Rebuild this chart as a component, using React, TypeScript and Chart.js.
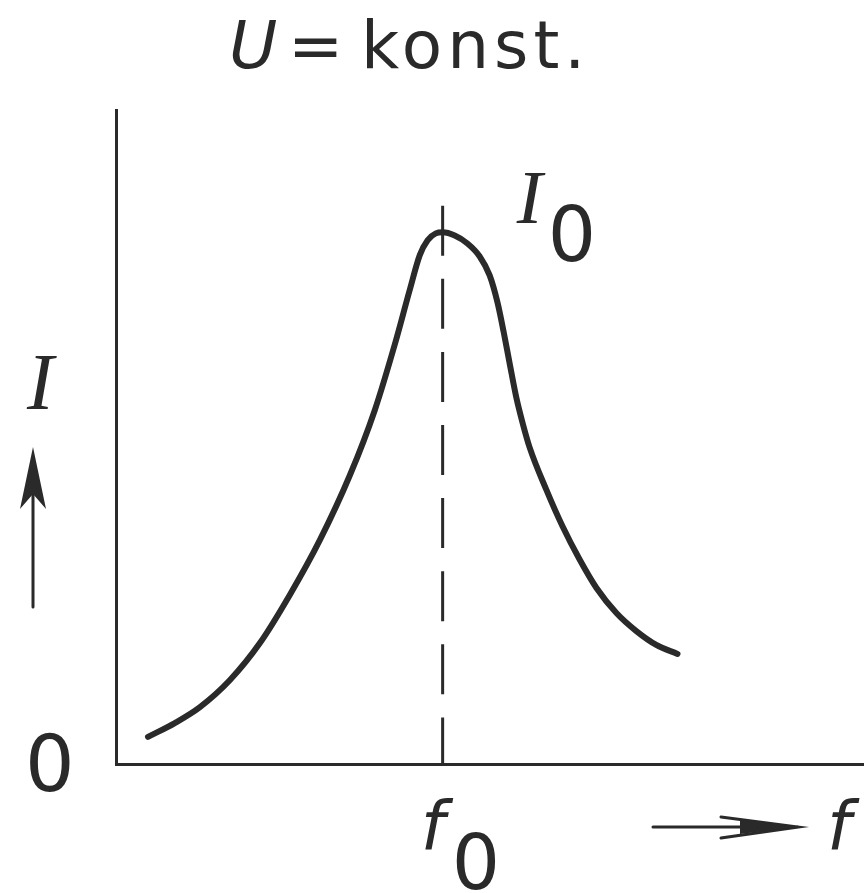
import { useEffect, useRef } from "react";
import { Chart, registerables } from "chart.js";

Chart.register(...registerables);

// Resonance curve of a series circuit: current I over frequency f at constant voltage U.
// Frequencies in units of the resonance frequency f0, currents in units of the peak current I0.
const frequency = [
  0.098, 0.18, 0.257, 0.349, 0.44, 0.532, 0.624, 0.716, 0.792, 0.853, 0.899, 0.93, 0.954, 0.979,
  1.0, 1.037, 1.076, 1.113, 1.144, 1.168, 1.187, 1.205, 1.226, 1.245, 1.266, 1.318, 1.367, 1.419,
  1.471, 1.532, 1.593, 1.654, 1.719,
];
const current = [
  0.051, 0.077, 0.107, 0.158, 0.227, 0.318, 0.421, 0.543, 0.665, 0.788, 0.891, 0.957, 0.985,
  0.998, 1.0, 0.994, 0.979, 0.955, 0.919, 0.868, 0.812, 0.754, 0.688, 0.641, 0.596, 0.515, 0.447,
  0.385, 0.331, 0.284, 0.25, 0.224, 0.207,
];

// Dashed marker at the resonance frequency
const F0 = 1.0;
const markerFrequency = [F0, F0];
const markerCurrent = [1.05, 0];

// Axis ranges
const F_MAX = 2.29;
const I_MAX = 1.23;

const INK = "#2a2a2a";
const SANS = "'DejaVu Sans'";
const SERIF = "'Liberation Serif'";

const labelsPlugin = {
  id: "diagramLabels",
  afterDraw(chart: any) {
    const { ctx, scales } = chart;
    const fx = scales.x.getPixelForValue(F0);
    const peakY = scales.y.getPixelForValue(1);
    const zeroX = scales.x.getPixelForValue(0);
    const zeroY = scales.y.getPixelForValue(0);

    ctx.save();
    ctx.fillStyle = INK;
    ctx.strokeStyle = INK;
    ctx.textAlign = "left";
    ctx.textBaseline = "alphabetic";

    // Title "U=konst."
    ctx.font = `italic 66px ${SANS}`;
    ctx.fillText("U", 229, 68);
    ctx.font = `66px ${SANS}`;
    ctx.fillText("=", 288, 68);
    ctx.letterSpacing = "5px";
    ctx.fillText("konst.", 361, 68);
    ctx.letterSpacing = "0px";

    // Vertical axis label I with arrow
    ctx.font = `italic 80px ${SERIF}`;
    ctx.fillText("I", 27, 409);
    ctx.lineWidth = 3;
    ctx.lineCap = "round";
    ctx.beginPath();
    ctx.moveTo(33, 607);
    ctx.lineTo(33, 480);
    ctx.stroke();
    ctx.beginPath();
    ctx.moveTo(33, 447);
    ctx.lineTo(20, 509);
    ctx.lineTo(33, 494);
    ctx.lineTo(46, 509);
    ctx.closePath();
    ctx.fill();

    // Origin
    ctx.font = `78px ${SANS}`;
    ctx.fillText("0", zeroX - 91, zeroY + 27);

    // Peak label I0
    ctx.font = `italic 77px ${SERIF}`;
    ctx.fillText("I", fx + 74, peakY - 9);
    ctx.font = `76px ${SANS}`;
    ctx.fillText("0", fx + 105, peakY + 29);

    // Resonance frequency label f0
    ctx.font = `italic 68px ${SANS}`;
    ctx.fillText("f", fx - 22, zeroY + 86);
    ctx.font = `76px ${SANS}`;
    ctx.fillText("0", fx + 9, zeroY + 125);

    // Horizontal axis arrow and label f
    const ay = zeroY + 63;
    ctx.lineWidth = 3;
    ctx.beginPath();
    ctx.moveTo(653, ay);
    ctx.lineTo(790, ay);
    ctx.stroke();
    ctx.beginPath();
    ctx.moveTo(721, ay - 10);
    ctx.lineTo(798, ay);
    ctx.lineTo(721, ay + 11);
    ctx.stroke();
    ctx.beginPath();
    ctx.moveTo(740, ay - 7);
    ctx.lineTo(798, ay);
    ctx.lineTo(740, ay + 7);
    ctx.closePath();
    ctx.fill();
    ctx.font = `italic 68px ${SANS}`;
    ctx.fillText("f", 827, zeroY + 86);

    ctx.restore();
  },
};

export default function App() {
  const canvasRef = useRef<HTMLCanvasElement | null>(null);

  useEffect(() => {
    const canvas = canvasRef.current;
    if (!canvas) return;
    const curve = frequency.map((f, i) => ({ x: f, y: current[i] }));
    const marker = markerFrequency.map((f, i) => ({ x: f, y: markerCurrent[i] }));

    const axis = (max: number) => ({
      type: "linear" as const,
      min: 0,
      max,
      grid: { display: false, drawTicks: false },
      ticks: { display: false },
      border: { display: true, color: INK, width: 3 },
    });

    const chart = new Chart(canvas, {
      type: "line",
      data: {
        datasets: [
          {
            data: marker,
            borderColor: INK,
            borderWidth: 3,
            borderDash: [50, 23.1],
            pointRadius: 0,
            fill: false,
          },
          {
            data: curve,
            borderColor: INK,
            borderWidth: 6,
            borderCapStyle: "round",
            borderJoinStyle: "round",
            cubicInterpolationMode: "monotone",
            pointRadius: 0,
            fill: false,
          },
        ],
      },
      options: {
        responsive: false,
        animation: false,
        layout: { padding: { left: 116, top: 110, right: 0, bottom: 129 } },
        plugins: {
          legend: { display: false },
          tooltip: { enabled: false },
          title: { display: false },
        },
        scales: { x: axis(F_MAX), y: axis(I_MAX) },
      },
      plugins: [labelsPlugin],
    });

    return () => chart.destroy();
  }, []);

  return (
    <div style={{ position: "absolute", left: 0, top: 0, width: 864, height: 893, background: "#fff" }}>
      <canvas ref={canvasRef} width={864} height={893} style={{ display: "block" }} />
    </div>
  );
}
